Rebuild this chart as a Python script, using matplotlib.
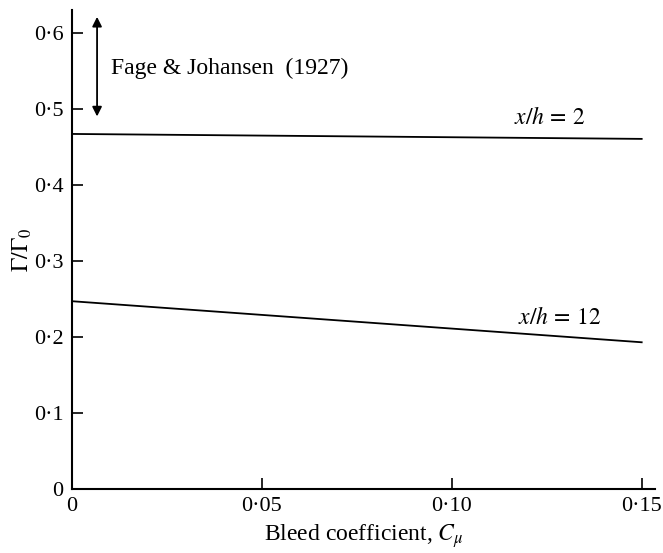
import matplotlib
matplotlib.use("Agg")
import matplotlib.pyplot as plt

plt.rcParams["font.family"] = ["Liberation Serif", "DejaVu Serif"]
plt.rcParams["mathtext.fontset"] = "stix"

# Data
cmu = [0.0, 0.15]
ratio_xh2 = [0.467, 0.4605]
ratio_xh12 = [0.247, 0.193]
fage_range = [0.49, 0.621]

xticks = [0, 0.05, 0.10, 0.15]
xticklabels = ["0", "0·05", "0·10", "0·15"]
yticks = [0, 0.1, 0.2, 0.3, 0.4, 0.5, 0.6]
yticklabels = ["0", "0·1", "0·2", "0·3", "0·4", "0·5", "0·6"]

fig = plt.figure(figsize=(6.63, 5.53), dpi=100)
ax = fig.add_axes([0.1086, 0.1157, 0.8793, 0.8662])

ax.plot(cmu, ratio_xh2, color="black", lw=1.3)
ax.plot(cmu, ratio_xh12, color="black", lw=1.3)

# Fage & Johansen range arrow
ax.annotate("", xy=(0.0066, fage_range[1]), xytext=(0.0066, fage_range[0]),
            arrowprops=dict(arrowstyle="<|-|>", color="black", lw=1.3,
                            mutation_scale=14, shrinkA=0, shrinkB=0))
ax.text(0.0102, 0.553, "Fage & Johansen  (1927)", fontsize=17, va="center")

ax.text(0.1163, 0.473, "$x/h\\,=\\,2$", fontsize=17, va="bottom")
ax.text(0.1175, 0.211, "$x/h\\,=\\,12$", fontsize=17, va="bottom")

ax.set_xlim(0, 0.1535)
ax.set_ylim(0, 0.63)
ax.set_xticks(xticks)
ax.set_xticklabels(xticklabels)
ax.set_yticks(yticks)
ax.set_yticklabels(yticklabels)
ax.tick_params(direction="in", length=8, width=1.2, labelsize=16, pad=6)

ax.spines["top"].set_visible(False)
ax.spines["right"].set_visible(False)
ax.spines["left"].set_linewidth(1.5)
ax.spines["bottom"].set_linewidth(1.5)

ax.set_xlabel("Bleed coefficient, $C_\\mu$", fontsize=17, labelpad=4)
ax.set_ylabel("$\\Gamma/\\Gamma_0$", fontsize=17, labelpad=0)

fig.savefig("out.png", dpi=100)
